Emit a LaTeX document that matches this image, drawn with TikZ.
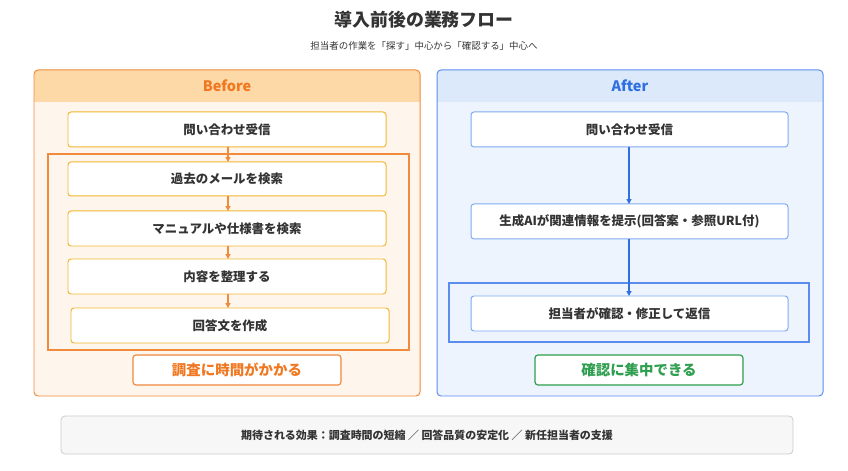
\documentclass[tikz,border=0pt]{standalone}
\usepackage{fontspec}
\setmainfont{Noto Sans CJK JP}
\usetikzlibrary{arrows.meta}
\definecolor{oborder}{HTML}{F08A3C}
\definecolor{ohead}{HTML}{FDD9A8}
\definecolor{obody}{HTML}{FEF5EC}
\definecolor{obox}{HTML}{F2B630}
\definecolor{otext}{HTML}{F07820}
\definecolor{bborder}{HTML}{5B8DEF}
\definecolor{bhead}{HTML}{DCE9FB}
\definecolor{bbody}{HTML}{EEF4FD}
\definecolor{bbox}{HTML}{7FAAF2}
\definecolor{btext}{HTML}{2F6FE0}
\definecolor{gtext}{HTML}{2E9E4F}
\definecolor{dark}{HTML}{333333}
\tikzset{
 x=1bp,y=-1bp,
 box/.style={draw=#1,fill=white,rounded corners=3pt,line width=1pt},
 lbl/.style={font=\bfseries\fontsize{12.5}{14}\selectfont,text=dark},
 arr/.style={-{Triangle[length=5pt,width=5pt]},line width=1.3pt,draw=#1},
}
\begin{document}
\begin{tikzpicture}
\useasboundingbox (0,0) rectangle (848,471);
\node[font=\bfseries\fontsize{18}{20}\selectfont,text=dark] (title) at (424,20) {導入前後の業務フロー};
\node[font=\fontsize{9.5}{11}\selectfont,text=dark] (sub) at (424,46) {担当者の作業を「探す」中心から「確認する」中心へ};
% Before panel
\fill[obody,rounded corners=4pt] (34,70) rectangle (420,396);
\fill[ohead,rounded corners=4pt] (34,70) rectangle (420,102);
\fill[ohead] (34,90) rectangle (420,102);
\draw[oborder,line width=1pt,rounded corners=4pt] (34,70) rectangle (420,396);
\node[font=\bfseries\fontsize{14.5}{16}\selectfont,text=otext] (bh) at (227,86) {Before};
\draw[box=obox] (68,112) rectangle (386,147) node[midway,lbl] (b1) {問い合わせ受信};
\draw[oborder,line width=2.2pt] (48,154) rectangle (409,350);
\draw[box=obox] (68,162) rectangle (386,196) node[midway,lbl] (b2) {過去のメールを検索};
\draw[box=obox] (68,211) rectangle (386,246) node[midway,lbl] (b3) {マニュアルや仕様書を検索};
\draw[box=obox] (68,259) rectangle (386,294) node[midway,lbl] (b4) {内容を整理する};
\draw[box=obox] (71,308) rectangle (389,343) node[midway,lbl] (b5) {回答文を作成};
\coordinate (b1s) at (228,147); \coordinate (b2n) at (228,162);
\coordinate (b2s) at (228,196); \coordinate (b3n) at (228,211);
\coordinate (b3s) at (228,246); \coordinate (b4n) at (228,259);
\coordinate (b4s) at (228,294); \coordinate (b5n) at (228,308);
\draw[arr=oborder] (b1s)--(b2n);
\draw[arr=oborder] (b2s)--(b3n);
\draw[arr=oborder] (b3s)--(b4n);
\draw[arr=oborder] (b4s)--(b5n);
\draw[box=oborder,line width=1.2pt] (133,355) rectangle (341,385) node[midway,font=\bfseries\fontsize{14.5}{16}\selectfont,text=otext] (bl) {調査に時間がかかる};
% After panel
\fill[bbody,rounded corners=4pt] (437,70) rectangle (823,396);
\fill[bhead,rounded corners=4pt] (437,70) rectangle (823,102);
\fill[bhead] (437,90) rectangle (823,102);
\draw[bborder,line width=1pt,rounded corners=4pt] (437,70) rectangle (823,396);
\node[font=\bfseries\fontsize{14.5}{16}\selectfont,text=btext] (ah) at (630,86) {After};
\draw[box=bbox] (471,112) rectangle (788,147) node[midway,lbl] (a1) {問い合わせ受信};
\draw[box=bbox] (471,204) rectangle (788,239) node[midway,lbl] (a2) {生成AIが関連情報を提示(回答案・参照URL付)};
\draw[bborder,line width=2.2pt] (449,283) rectangle (809,342);
\draw[box=bbox] (471,296) rectangle (788,331) node[midway,lbl] (a3) {担当者が確認・修正して返信};
\coordinate (a1s) at (629,147); \coordinate (a2n) at (629,204);
\coordinate (a2s) at (629,239); \coordinate (a3n) at (629,296);
\draw[arr=btext] (a1s)--(a2n);
\draw[arr=btext] (a2s)--(a3n);
\draw[box=gtext,line width=1.2pt] (535,355) rectangle (743,385) node[midway,font=\bfseries\fontsize{14.5}{16}\selectfont,text=gtext] (al) {確認に集中できる};
% bottom
\draw[draw=black!20,fill=black!3,rounded corners=4pt,line width=0.8pt] (61,416) rectangle (793,454) node[midway,font=\bfseries\fontsize{11}{13}\selectfont,text=dark] (eff) {期待される効果：調査時間の短縮 ／ 回答品質の安定化 ／ 新任担当者の支援};
\end{tikzpicture}
\end{document}
